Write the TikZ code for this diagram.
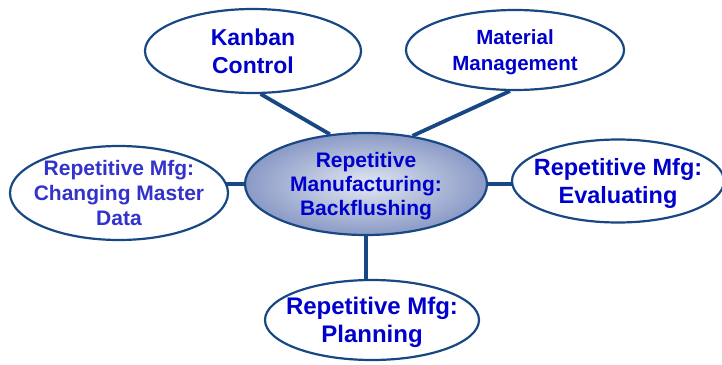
\documentclass[tikz,border=0pt]{standalone}
\usepackage{fontspec}
\setmainfont{Liberation Sans}
\usetikzlibrary{shapes.geometric, backgrounds}

\definecolor{edgeblue}{RGB}{24,72,132}
\definecolor{textblue}{RGB}{0,0,204}
\definecolor{softblue}{RGB}{51,51,204}
\definecolor{hublight}{RGB}{226,231,241}
\definecolor{hubdark}{RGB}{138,154,198}

\tikzset{
  bubble/.style={ellipse, draw=edgeblue, line width=2.2pt, fill=white,
    inner xsep=-30pt, inner ysep=-20pt, text depth=0pt, align=center, text=textblue},
  hubbubble/.style={bubble, fill=none, inner color=hublight, outer color=hubdark},
  link/.style={draw=edgeblue, line width=3.8pt}
}

\begin{document}
\begin{tikzpicture}[x=1pt, y=-1pt]
      \useasboundingbox (0,0) rectangle (722,364);
      \clip (0,0) rectangle (722,364);

      \node[hubbubble, minimum width=242pt, minimum height=102pt,
        font=\fontsize{21}{24}\selectfont\bfseries] (hub) at (366,184)
        {Repetitive\\Manufacturing:\\Backflushing};

      \node[bubble, minimum width=216pt, minimum height=84pt,
        font=\fontsize{23}{28}\selectfont\bfseries] (kanban) at (253,51)
        {Kanban\\Control};
      \node[bubble, minimum width=218pt, minimum height=80pt,
        font=\fontsize{20.5}{26}\selectfont\bfseries] (material) at (515,50)
        {Material\\Management};
      \node[bubble, minimum width=218pt, minimum height=94pt, text=softblue,
        font=\fontsize{21}{25}\selectfont\bfseries] (masterdata) at (119,193)
        {Repetitive Mfg:\\Changing Master\\Data};
      \node[bubble, minimum width=212pt, minimum height=83pt,
        font=\fontsize{23.5}{28}\selectfont\bfseries] (evaluating) at (618,181)
        {Repetitive Mfg:\\Evaluating};
      \node[bubble, minimum width=214pt, minimum height=80pt,
        font=\fontsize{24}{28}\selectfont\bfseries] (planning) at (372,320)
        {Repetitive Mfg:\\Planning};

      \begin{scope}[on background layer]
        \draw[link] (kanban.-80) -- (hub.126);
        \draw[link] (material.-97) -- (hub.46);
        \draw[link] (hub.center) -- (hub.center -| masterdata.center);
        \draw[link] (hub.center) -- (hub.center -| evaluating.center);
        \draw[link] (hub.center) -- (hub.center |- planning.center);
      \end{scope}
    \end{tikzpicture}
\end{document}
